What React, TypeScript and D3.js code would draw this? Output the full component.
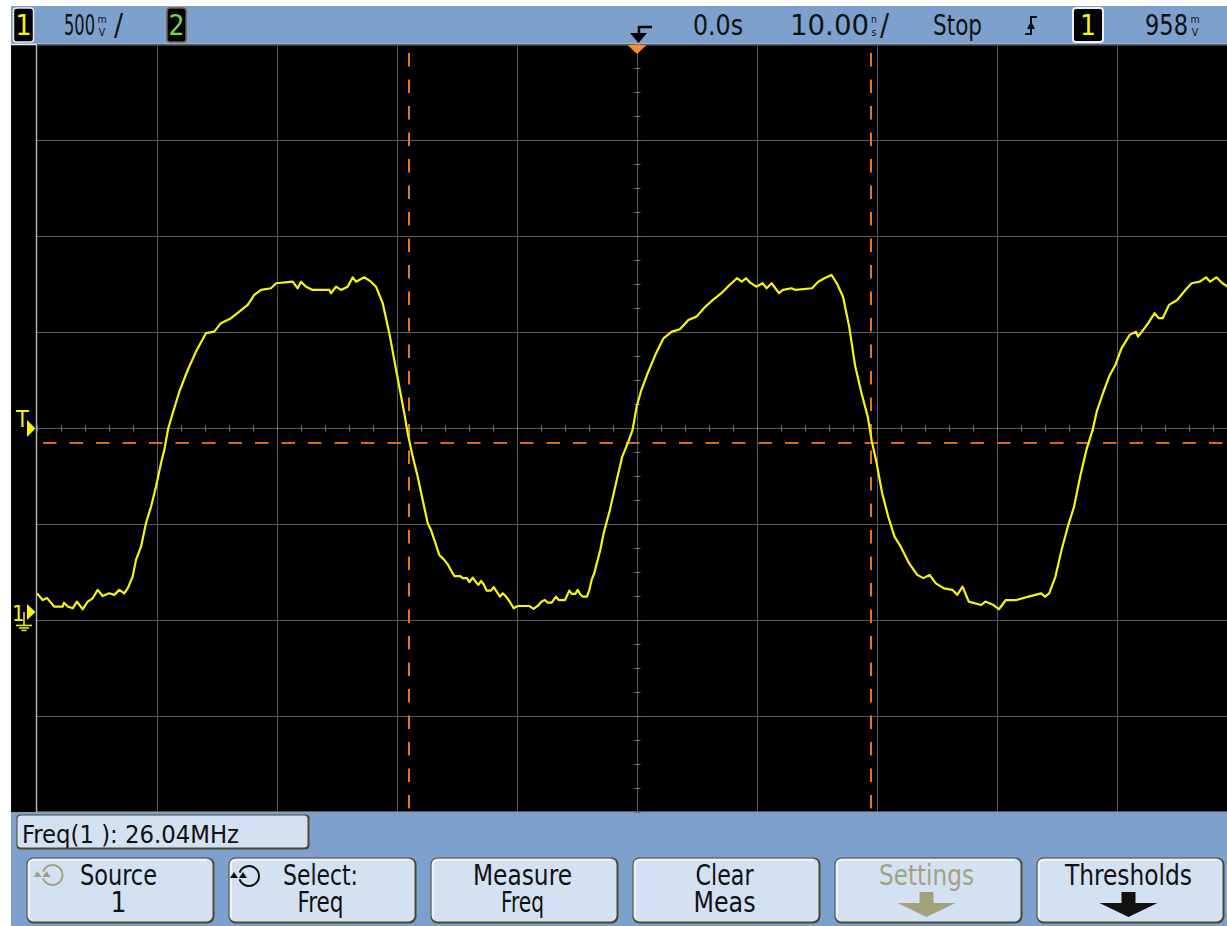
import React from 'react';
import * as d3 from 'd3';

// channel 1 trace: time in ns, level in mV
const traceTimeNs = [
  -50.0, -49.53, -49.17, -48.83, -48.58, -47.86, -47.75, -47.44, -47.03, -46.67,
  -46.19, -45.78, -45.36, -44.94, -44.53, -43.98, -43.56, -43.14, -42.73, -42.44,
  -42.03, -41.75, -41.33, -40.92, -40.5, -40.08, -39.67, -39.39, -39.06, -38.69,
  -38.14, -37.44, -36.75, -35.92, -35.23, -34.67, -33.83, -33.14, -32.44, -31.89,
  -31.33, -30.5, -30.08, -28.69, -28.28, -28.0, -27.58, -27.03, -25.64, -25.5,
  -25.08, -24.67, -24.11, -23.69, -23.42, -22.73, -22.17, -21.75, -21.19, -20.64,
  -20.23, -19.81, -19.39, -19.11, -18.69, -18.28, -17.86, -17.44, -17.17, -16.75,
  -16.48, -16.06, -15.78, -15.44, -15.22, -14.73, -14.53, -14.17, -13.97, -13.69,
  -13.42, -13.22, -13.0, -12.78, -12.53, -12.17, -11.94, -11.75, -11.42, -11.19,
  -10.92, -10.64, -10.28, -9.94, -8.98, -8.61, -8.28, -7.94, -7.67, -7.44,
  -7.11, -6.75, -6.53, -6.0, -5.64, -5.44, -5.14, -4.94, -4.73, -4.53,
  -4.17, -3.97, -3.78, -3.56, -3.28, -3.06, -2.78, -2.26, -1.75, -1.23,
  -0.72, -0.37, -0.03, 0.32, 0.83, 1.53, 2.21, 2.9, 3.58, 4.28,
  4.96, 5.65, 6.33, 7.03, 7.71, 8.33, 8.74, 9.08, 9.43, 9.94,
  10.46, 10.8, 11.22, 11.83, 12.17, 12.87, 13.21, 14.58, 15.1, 15.62,
  16.2, 16.65, 17.17, 17.68, 18.19, 18.71, 19.23, 19.57, 19.92, 20.43,
  20.94, 21.46, 21.98, 22.67, 23.35, 23.87, 24.38, 24.9, 25.58, 26.28,
  26.68, 27.13, 27.65, 28.68, 29.03, 29.71, 30.16, 30.74, 31.6, 32.63,
  33.67, 34.01, 34.35, 34.87, 35.38, 35.9, 36.42, 36.93, 37.45, 37.97,
  38.31, 38.83, 39.34, 39.86, 40.37, 41.06, 41.58, 41.75, 42.08, 42.6,
  43.13, 43.47, 43.81, 44.33, 45.02, 45.7, 46.22, 46.9, 47.42, 47.76,
  48.28, 48.79, 49.24
];

const traceMilliVolts = [
  97, 62, 73, 47, 28, 28, 48, 28, 19, 54,
  14, 54, 71, 115, 83, 97, 89, 115, 97, 123,
  184, 271, 340, 462, 548, 653, 774, 844, 957, 1035,
  1147, 1260, 1356, 1452, 1460, 1504, 1530, 1564, 1599, 1651,
  1677, 1686, 1712, 1720, 1686, 1720, 1694, 1677, 1677, 1660,
  1694, 1677, 1694, 1743, 1720, 1743, 1720, 1694, 1608, 1452,
  1313, 1173, 1035, 931, 809, 705, 583, 462, 427, 349,
  297, 271, 248, 210, 187, 187, 176, 176, 155, 179,
  155, 141, 161, 144, 111, 111, 129, 111, 80, 97,
  80, 57, 19, 31, 31, 16, 31, 54, 62, 48,
  48, 80, 62, 62, 111, 94, 94, 115, 92, 80,
  80, 115, 167, 202, 271, 323, 410, 531, 670, 809,
  887, 948, 1069, 1147, 1234, 1339, 1425, 1460, 1472, 1521,
  1538, 1587, 1625, 1660, 1703, 1738, 1720, 1738, 1715, 1694,
  1712, 1686, 1712, 1660, 1677, 1686, 1677, 1686, 1720, 1738,
  1755, 1712, 1642, 1486, 1278, 1139, 1017, 887, 792, 618,
  496, 392, 340, 254, 193, 176, 193, 149, 123, 115,
  89, 132, 54, 36, 54, 36, 14, 62, 62, 80,
  97, 80, 97, 184, 323, 444, 548, 705, 844, 948,
  1043, 1139, 1226, 1286, 1373, 1443, 1460, 1434, 1460, 1504,
  1556, 1530, 1530, 1599, 1625, 1677, 1712, 1720, 1743, 1720,
  1743, 1712, 1694
];

const triggerLevelMv = 958;
const thresholdMv = 880;
const cursorTimesNs = [-18.97, 19.49];
const timeDivNs = 10;
const voltDivMv = 500;

const freqReadout = 'Freq(1 ): 26.04MHz';
const buttonTop = ['Source', 'Select:', 'Measure', 'Clear', 'Settings', 'Thresholds'];
const buttonBottom = ['1', 'Freq', 'Freq', 'Meas', '', ''];

const FONT = "'Liberation Sans Narrow', 'DejaVu Sans Condensed', 'Liberation Sans', Arial, sans-serif";
const BLUE = '#7EA0CC';
const BTN = '#D4E1F2';
const YELLOW = '#F6F50C';
const ORANGE = '#D8691C';
const DIM = '#A3A27F';

const Knob = ({ cx, cy, color }: { cx: number; cy: number; color: string }) => {
  const r = 10;
  const a1 = (160 * Math.PI) / 180;
  const a2 = (200 * Math.PI) / 180;
  return (
    <g>
      <path
        d={`M${cx + r * Math.cos(a1)},${cy - r * Math.sin(a1)} A${r},${r} 0 1 1 ${cx + r * Math.cos(a2)},${cy - r * Math.sin(a2)}`}
        fill="none" stroke={color} strokeWidth={2}
      />
      <path d={`M${cx - 19},${cy + 2} l4,-6 l4,6 Z`} fill={color} />
      <path d={`M${cx - 10},${cy + 2} l4,-6 l4,6 Z`} fill={color} />
    </g>
  );
};

// stacked unit glyph (m over V)
const Stack = ({ x, top, bottom }: { x: number; top: string; bottom: string }) => (
  <g fontFamily={FONT} textAnchor="middle" fill="#111" fontSize={10.5}>
    <text x={x} y={23}>{top}</text>
    <text x={x} y={35.5}>{bottom}</text>
  </g>
);

// squeezed status text: scaled horizontally so its box stays narrow
const Squeezed = ({ x, width, sx, children }: { x: number; width: number; sx: number; children: string }) => (
  <text transform={`translate(${x},35) scale(${sx},1)`} textLength={width / sx} lengthAdjust="spacingAndGlyphs">
    {children}
  </text>
);

export default function App() {
  const x = d3.scaleLinear().domain([-5 * timeDivNs, 5 * timeDivNs]).range([37, 1237]);
  const y = d3.scaleLinear()
    .domain([triggerLevelMv - 4 * voltDivMv, triggerLevelMv + 4 * voltDivMv])
    .range([812, 44]);

  const pts = traceTimeNs.map((t, i) => [t, traceMilliVolts[i]] as [number, number]);
  const line = d3.line<[number, number]>().x(d => x(d[0])).y(d => y(d[1]));

  const majorT = d3.range(-4, 5).map(k => k * timeDivNs);
  const majorV = d3.range(-3, 5).map(k => triggerLevelMv + k * voltDivMv);
  const minorT = d3.range(-25, 26).map(k => k * (timeDivNs / 5));
  const minorV = d3.range(-16, 17).map(k => triggerLevelMv + k * (voltDivMv / 4));

  const cx = Math.round(x(0)) + 0.5;
  const cy = Math.round(y(triggerLevelMv)) + 0.5;
  const gy = y(0);

  const btnLen1 = [77, 75, 99, 58, 95, 127];
  const btnLen2 = [0, 46, 43, 62, 0, 0];

  return (
    <svg width={1227} height={926} style={{ position: 'absolute', left: 0, top: 0, background: '#fff' }}>
      <defs>
        <clipPath id="scr">
          <rect x={37} y={45} width={1190} height={767} />
        </clipPath>
      </defs>
      <rect x={11} y={6} width={1216} height={920} fill={BLUE} />
      <rect x={11} y={45} width={1216} height={767} fill="#000" />
      <line x1={11} x2={1227} y1={44.5} y2={44.5} stroke="#E4EAF2" strokeWidth={1.5} />

      {/* grid */}
      <g stroke="#5A5A5A" strokeWidth={1}>
        {majorT.map(t => (
          <line key={'t' + t} x1={Math.round(x(t)) + 0.5} x2={Math.round(x(t)) + 0.5} y1={45} y2={812} />
        ))}
        {majorV.map(v => (
          <line key={'v' + v} x1={37} x2={1227} y1={Math.round(y(v)) + 0.5} y2={Math.round(y(v)) + 0.5} />
        ))}
        <line x1={37} x2={1227} y1={811.5} y2={811.5} />
      </g>
      <line x1={36.5} x2={36.5} y1={45} y2={812} stroke="#B0B0B0" strokeWidth={1.5} />
      <g stroke="#777" strokeWidth={1}>
        {minorT.map(t => (
          <line key={'mt' + t} x1={Math.round(x(t)) + 0.5} x2={Math.round(x(t)) + 0.5} y1={cy - 3} y2={cy + 3} />
        ))}
        {minorV.map(v => (
          <line key={'mv' + v} x1={cx - 3} x2={cx + 3} y1={Math.round(y(v)) + 0.5} y2={Math.round(y(v)) + 0.5} />
        ))}
      </g>

      {/* cursors */}
      <line x1={43} x2={1227} y1={Math.round(y(thresholdMv))} y2={Math.round(y(thresholdMv))}
        stroke={ORANGE} strokeWidth={2} strokeDasharray="13.5,13" />
      {cursorTimesNs.map(t => (
        <line key={'c' + t} x1={Math.round(x(t))} x2={Math.round(x(t))} y1={53} y2={810}
          stroke="#E8741C" strokeWidth={2} strokeDasharray="13.5,13" />
      ))}

      {/* trace */}
      <path d={line(pts) || ''} fill="none" stroke={YELLOW} strokeWidth={2.2}
        strokeLinejoin="round" clipPath="url(#scr)" />

      {/* trigger position */}
      <path d={`M${x(0) - 9.5},45 L${x(0) + 9.5},45 L${x(0)},54 Z`} fill="#F5912A" />
      <path d={`M${x(0) + 2},27 H${x(0) + 15} M${x(0) + 2},26 V36`} stroke="#000" strokeWidth={2.5} fill="none" />
      <path d={`M${x(0) - 7},33 L${x(0) + 10},33 L${x(0) + 1.5},43 Z`} fill="#000" />

      {/* left markers */}
      <text x={16} y={427} fontFamily={FONT} fontSize={23} fill={YELLOW}>T</text>
      <path d={`M27,${cy - 8.5} L27,${cy + 8.5} L35.5,${cy} Z`} fill={YELLOW} />
      <text x={12} y={621} fontFamily={FONT} fontSize={22} fill={YELLOW}>1</text>
      <path d={`M27,${gy - 8} L27,${gy + 8} L35.5,${gy} Z`} fill={YELLOW} />
      <g stroke={YELLOW} strokeWidth={1.5}>
        <line x1={24} x2={24} y1={gy} y2={gy + 13} />
        <line x1={16} x2={32} y1={gy + 13.5} y2={gy + 13.5} />
        <line x1={19} x2={29} y1={gy + 16} y2={gy + 16} />
        <line x1={21.5} x2={26.5} y1={gy + 18.5} y2={gy + 18.5} />
      </g>

      {/* top status line */}
      <g fontFamily={FONT} fontSize={28} fill="#111">
        <rect x={13.5} y={8} width={20} height={34} rx={3} fill="#000" stroke="#E8E8E8" strokeWidth={1.5} />
        <text x={23.5} y={35} textAnchor="middle" fill={YELLOW}>1</text>
        <Squeezed x={64} width={31} sx={0.64}>500</Squeezed>
        <text x={114} y={35} fontSize={30}>/</text>
        <rect x={167} y={8} width={19} height={34} rx={3} fill="#000" stroke="#6B6440" strokeWidth={1.5} />
        <text x={176.5} y={35} textAnchor="middle" fill="#7DD44A">2</text>
        <text x={693} y={35} textLength={50} lengthAdjust="spacingAndGlyphs">0.0s</text>
        <text x={790} y={35} textLength={79} lengthAdjust="spacingAndGlyphs">10.00</text>
        <text x={880} y={35} fontSize={30}>/</text>
        <text x={933} y={35} textLength={49} lengthAdjust="spacingAndGlyphs">Stop</text>
        <rect x={1073} y={8} width={30} height={34} rx={3} fill="#000" stroke="#F0F0F0" strokeWidth={2} />
        <text x={1088} y={35} textAnchor="middle" fill={YELLOW}>1</text>
        <Squeezed x={1145} width={43} sx={0.86}>958</Squeezed>
      </g>
      <Stack x={102} top="m" bottom="V" />
      <Stack x={874} top="n" bottom="s" />
      <Stack x={1195} top="m" bottom="V" />
      <g stroke="#111" strokeWidth={2} fill="none">
        <path d="M1025,34 H1031 V17 H1037" />
      </g>
      <path d="M1027,29 L1035,29 L1031,21 Z" fill="#111" />

      {/* measurement readout */}
      <rect x={16.5} y={814.5} width={293} height={35} rx={4} fill="#4E4933" />
      <rect x={17.5} y={815.5} width={290} height={32} rx={3.5} fill={BTN} />
      <text x={22} y={843} fontFamily={FONT} fontSize={25} fill="#111" textLength={217} lengthAdjust="spacingAndGlyphs">
        {freqReadout}
      </text>

      {/* softkeys */}
      {buttonTop.map((label, i) => {
        const bx = 27 + 202 * i;
        const mid = bx + 93 - 1.5;
        const dim = label === 'Settings';
        const col = dim ? DIM : '#111';
        return (
          <g key={label}>
            <rect x={bx - 0.5} y={857.5} width={188} height={66} rx={7} fill="#4E4933" />
            <rect x={bx + 0.5} y={858.5} width={185} height={63} rx={6} fill={BTN} />
            <path d={`M${bx + 2},${918} V${864} Q${bx + 2},${860} ${bx + 7},${860} H${bx + 180}`}
              fill="none" stroke="#F4F7FB" strokeWidth={1.5} />
            <g fontFamily={FONT} fontSize={28} fill={col} textAnchor="middle">
              <text x={mid} y={885} textLength={btnLen1[i]} lengthAdjust="spacingAndGlyphs">{label}</text>
              {buttonBottom[i] !== '' && (
                btnLen2[i] > 0
                  ? <text x={mid} y={912} textLength={btnLen2[i]} lengthAdjust="spacingAndGlyphs">{buttonBottom[i]}</text>
                  : <text x={mid} y={912}>{buttonBottom[i]}</text>
              )}
            </g>
            {i === 0 && <Knob cx={52.5} cy={875} color={DIM} />}
            {i === 1 && <Knob cx={249} cy={876} color="#111" />}
            {(i === 4 || i === 5) && (
              <path
                d={`M${mid - 7},892 H${mid + 7} V903 H${mid + 29} L${mid},917 L${mid - 29},903 H${mid - 7} Z`}
                fill={col}
              />
            )}
          </g>
        );
      })}
    </svg>
  );
}
